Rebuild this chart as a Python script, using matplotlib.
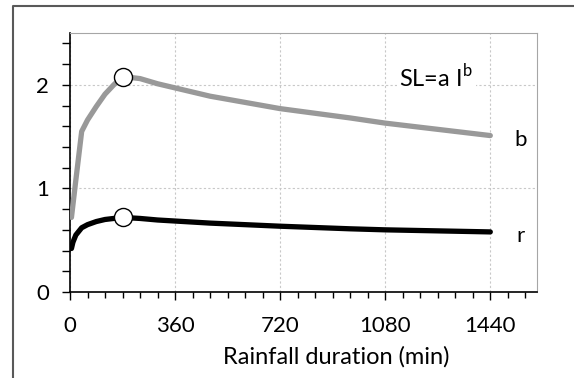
import matplotlib.pyplot as plt
from matplotlib.lines import Line2D
from matplotlib.ticker import MultipleLocator

plt.rcParams['font.family'] = ['Lato', 'DejaVu Sans']

# rainfall duration (min) and fitted coefficients of SL = a I^b
duration = [5, 10, 20, 40, 60, 90, 120, 150, 180, 240, 300, 360, 480, 720, 960, 1080, 1440]
b_vals = [0.72, 0.84, 1.08, 1.55, 1.66, 1.79, 1.91, 2.00, 2.08, 2.06, 2.01, 1.97, 1.89, 1.77, 1.68, 1.63, 1.51]
r_vals = [0.42, 0.48, 0.55, 0.62, 0.65, 0.68, 0.70, 0.71, 0.72, 0.71, 0.695, 0.685, 0.665, 0.635, 0.61, 0.60, 0.58]
peak_idx = duration.index(180)

x_ticks = [0, 360, 720, 1080, 1440]
y_ticks = [0, 1, 2]

fig = plt.figure(figsize=(5.74, 3.78), dpi=100)
ax = fig.add_axes([70 / 574, 1 - 292 / 378, 467 / 574, 259 / 378])

ax.plot(duration, b_vals, color='#999999', lw=3.8, solid_capstyle='round', zorder=3,
        marker='o', markevery=[peak_idx], ms=13, mfc='white', mec='black', mew=1.0)
ax.plot(duration, r_vals, color='black', lw=3.8, solid_capstyle='round', zorder=3,
        marker='o', markevery=[peak_idx], ms=13, mfc='white', mec='black', mew=1.0)

ax.set_xlim(0, 1600)
ax.set_ylim(0, 2.5)
ax.set_xticks(x_ticks)
ax.set_yticks(y_ticks)
ax.xaxis.set_minor_locator(MultipleLocator(60))
ax.yaxis.set_minor_locator(MultipleLocator(0.2))
ax.tick_params(axis='both', which='both', direction='out', color='black', width=1,
               labelsize=16)
ax.tick_params(axis='y', which='both', length=6, pad=9)
ax.tick_params(axis='x', which='major', length=6, pad=11)
ax.tick_params(axis='x', which='minor', length=4)

ax.grid(True, which='major', color='#c8c8c8', ls=(0, (2, 2)), lw=0.8)
ax.set_axisbelow(True)
for side in ['top', 'right']:
    ax.spines[side].set_color('#a6a6a6')
for side in ['left', 'bottom']:
    ax.spines[side].set_color('black')
    ax.spines[side].set_linewidth(1.2)

ax.text(1255, 2.08, r'SL=a I$^{\mathregular{b}}$', fontsize=17, ha='center', va='center',
        bbox=dict(facecolor='white', edgecolor='none', pad=2), zorder=2)
ax.text(1545, b_vals[-1] - 0.04, 'b', fontsize=16, ha='center', va='center')
ax.text(1545, r_vals[-1] - 0.04, 'r', fontsize=16, ha='center', va='center')

fig.text(336 / 574, 1 - 357 / 378, 'Rainfall duration (min)', fontsize=17, ha='center', va='center')

# chart frame (partly cut by the image edge)
fig.add_artist(Line2D([13 / 574, 13 / 574, 1.0], [0.0, 1 - 6 / 378, 1 - 6 / 378],
                      transform=fig.transFigure, color='#595959', lw=1.5))

fig.savefig('out.png', dpi=100)
